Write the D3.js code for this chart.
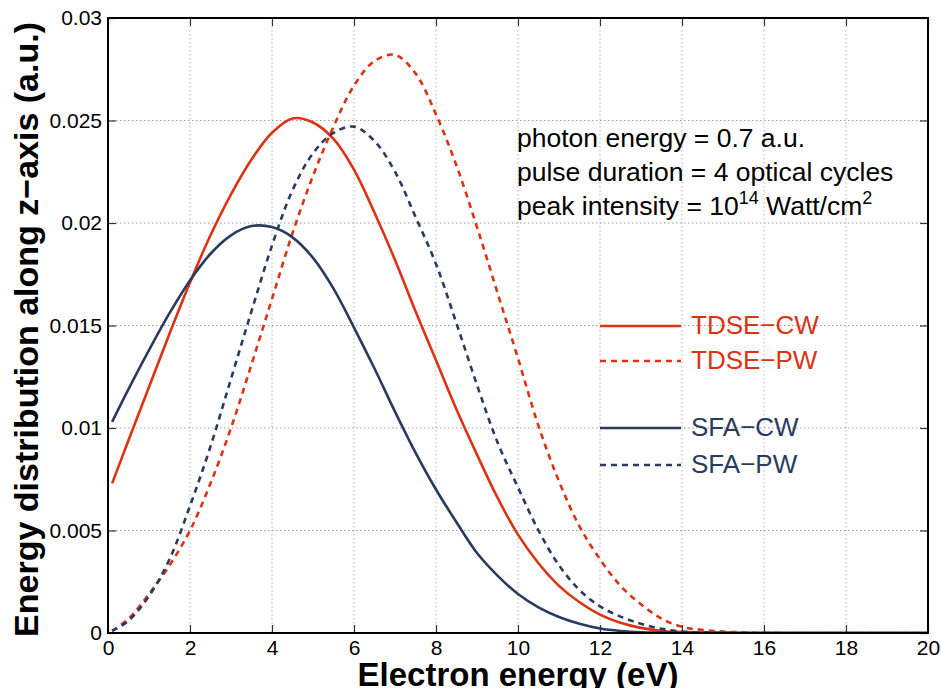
<!DOCTYPE html>
<html>
<head>
<meta charset="utf-8">
<script src="https://cdn.jsdelivr.net/npm/d3@7"></script>
<style>
  html, body { margin: 0; padding: 0; background: #fff; }
  svg { display: block; font-family: "Liberation Sans", Arial, Helvetica, sans-serif; }
</style>
</head>
<body>
<svg id="chart" width="941" height="688"></svg>
<script>
// ---------- data ----------
const energy = [0.1, 0.5, 1, 1.5, 2, 2.5, 3, 3.5, 4, 4.5, 5, 5.5, 6, 6.5, 7, 7.5, 8, 8.5, 9, 9.5,
                10, 10.5, 11, 11.5, 12, 12.5, 13, 13.5, 14, 14.5, 15, 15.5, 16, 17, 18, 19, 20];
const tdseCW = [0.0073, 0.0094, 0.0120, 0.0146, 0.0171, 0.0194, 0.0214, 0.0231, 0.0244, 0.0251, 0.0249, 0.0241, 0.0226, 0.0205, 0.0182, 0.0157, 0.0133, 0.0109, 0.0087, 0.0066,
                0.0048, 0.0034, 0.0023, 0.0015, 0.0009, 0.0005, 0.00025, 0.0001, 0.00005, 0.00002, 0.00001, 0, 0, 0, 0, 0, 0];
const tdsePW = [0.0001, 0.0007, 0.0019, 0.0033, 0.0050, 0.0073, 0.0100, 0.0131, 0.0163, 0.0195, 0.0223, 0.0247, 0.0267, 0.0279, 0.0282, 0.0273, 0.0253, 0.0228, 0.0198, 0.0166,
                0.0134, 0.0101, 0.0074, 0.0052, 0.0036, 0.0023, 0.0014, 0.0007, 0.0003, 0.00015, 0.00007, 0.00003, 0.00001, 0, 0, 0, 0];
const sfaCW  = [0.0103, 0.0119, 0.0138, 0.0156, 0.0172, 0.0185, 0.0194, 0.01985, 0.0198, 0.0193, 0.0183, 0.0168, 0.0149, 0.0129, 0.0108, 0.0088, 0.0070, 0.0054, 0.0039, 0.0028,
                0.0019, 0.00125, 0.00078, 0.00045, 0.00022, 0.0001, 0.00004, 0.00002, 0.00001, 0, 0, 0, 0, 0, 0, 0, 0];
const sfaPW  = [0.0001, 0.0006, 0.0018, 0.0036, 0.0062, 0.0091, 0.0124, 0.0157, 0.0189, 0.0216, 0.0234, 0.0244, 0.0247, 0.0240, 0.0225, 0.0203, 0.0180, 0.0151, 0.0121, 0.0093,
                0.0071, 0.0050, 0.0033, 0.0021, 0.0013, 0.0008, 0.00045, 0.0002, 0.00007, 0.00003, 0.00001, 0, 0, 0, 0, 0, 0];

const seriesNames = ["TDSE\u2212CW", "TDSE\u2212PW", "SFA\u2212CW", "SFA\u2212PW"];
const xTicks = [0, 2, 4, 6, 8, 10, 12, 14, 16, 18, 20];
const yTicks = [0, 0.005, 0.01, 0.015, 0.02, 0.025, 0.03];
const yTickLabels = ["0", "0.005", "0.01", "0.015", "0.02", "0.025", "0.03"];
const annotation = ["photon energy = 0.7 a.u.", "pulse duration = 4 optical cycles", "peak intensity = "];

// ---------- layout ----------
const svg = d3.select("#chart");
const L = 108, R = 928, T = 18, B = 633;
const x = d3.scaleLinear().domain([0, 20]).range([L, R]);
const y = d3.scaleLinear().domain([0, 0.03]).range([B, T]);

const red = "#dc3312", navy = "#2a3b62";
const styles = [
  { data: tdseCW, color: red, dash: null },
  { data: tdsePW, color: red, dash: "6,5" },
  { data: sfaCW, color: navy, dash: null },
  { data: sfaPW, color: navy, dash: "6,5" }
];

// grid
const grid = svg.append("g");
grid.selectAll("line.v").data(xTicks.slice(1, -1)).join("line")
  .attr("x1", d => x(d)).attr("x2", d => x(d)).attr("y1", T).attr("y2", B)
  .attr("stroke", "#b5b5b5").attr("stroke-width", 1).attr("stroke-dasharray", "1.5,2.5");
grid.selectAll("line.h").data(yTicks.slice(1, -1)).join("line")
  .attr("x1", L).attr("x2", R).attr("y1", d => y(d)).attr("y2", d => y(d))
  .attr("stroke", "#9a9a9a").attr("stroke-width", 1).attr("stroke-dasharray", "1.5,2.5");

// clip
svg.append("clipPath").attr("id", "clip").append("rect")
  .attr("x", L).attr("y", T).attr("width", R - L).attr("height", B - T);

const line = d3.line().x(d => x(d[0])).y(d => y(d[1])).curve(d3.curveCatmullRom.alpha(0.5));
const plot = svg.append("g").attr("clip-path", "url(#clip)");
styles.forEach(s => {
  plot.append("path")
    .datum(energy.map((e, i) => [e, s.data[i]]))
    .attr("d", line)
    .attr("fill", "none")
    .attr("stroke", s.color)
    .attr("stroke-width", 2.6)
    .attr("stroke-dasharray", s.dash);
});

// axes (box with inward ticks)
const tickLen = 8;
const axisG = svg.append("g");
axisG.append("g").attr("transform", `translate(0,${B})`)
  .call(d3.axisBottom(x).tickValues(xTicks).tickSizeInner(-tickLen).tickSizeOuter(0).tickPadding(7).tickFormat(d3.format("d")));
axisG.append("g").attr("transform", `translate(0,${T})`)
  .call(d3.axisTop(x).tickValues(xTicks).tickSizeInner(-tickLen).tickSizeOuter(0).tickFormat(""));
axisG.append("g").attr("transform", `translate(${L},0)`)
  .call(d3.axisLeft(y).tickValues(yTicks).tickSizeInner(-tickLen).tickSizeOuter(0).tickPadding(6)
    .tickFormat((d, i) => yTickLabels[i]));
axisG.append("g").attr("transform", `translate(${R},0)`)
  .call(d3.axisRight(y).tickValues(yTicks).tickSizeInner(-tickLen).tickSizeOuter(0).tickFormat(""));
axisG.selectAll(".domain").remove();
axisG.selectAll(".tick line").attr("stroke", "#333").attr("stroke-width", 1.2);
axisG.selectAll(".tick text").attr("font-size", 21).attr("fill", "#000")
  .attr("font-family", "'Liberation Sans', Arial, sans-serif");
svg.append("rect").attr("x", L).attr("y", T).attr("width", R - L).attr("height", B - T)
  .attr("fill", "none").attr("stroke", "#000").attr("stroke-width", 2);

// axis labels
svg.append("text").attr("x", (L + R) / 2).attr("y", 686).attr("text-anchor", "middle")
  .attr("font-size", 33).attr("font-weight", "bold").text("Electron energy (eV)");
svg.append("text").attr("transform", `translate(38,${(T + B) / 2 + 4}) rotate(-90)`)
  .attr("text-anchor", "middle").attr("font-size", 34).attr("font-weight", "bold")
  .text("Energy distribution along z\u2212axis (a.u.)");

// annotation
const ann = svg.append("g").attr("font-size", 26.5).attr("fill", "#000");
ann.append("text").attr("x", 517).attr("y", 147).text(annotation[0]);
ann.append("text").attr("x", 517).attr("y", 181).text(annotation[1]);
const t3 = ann.append("text").attr("x", 517).attr("y", 215);
t3.append("tspan").text(annotation[2] + "10");
t3.append("tspan").attr("font-size", 18).attr("dy", -11).text("14");
t3.append("tspan").attr("dy", 11).text(" Watt/cm");
t3.append("tspan").attr("font-size", 18).attr("dy", -11).text("2");

// legend
const legY = [326, 361, 428, 465];
const leg = svg.append("g");
styles.forEach((s, i) => {
  leg.append("line").attr("x1", 600).attr("x2", 681).attr("y1", legY[i]).attr("y2", legY[i])
    .attr("stroke", s.color).attr("stroke-width", 2.6).attr("stroke-dasharray", s.dash);
  leg.append("text").attr("x", 691).attr("y", legY[i] + 8).attr("font-size", 26)
    .attr("fill", s.color).text(seriesNames[i]);
});
</script>
</body>
</html>
